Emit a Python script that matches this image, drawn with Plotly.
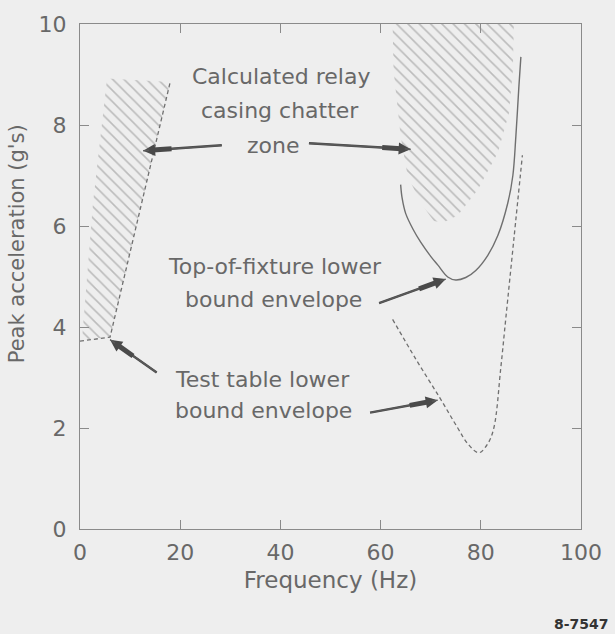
import math
import plotly.graph_objects as go

# ---------------- data ----------------
# Calculated relay casing chatter zone (left, hatched)
zone_left_x = [0.4, 2.6, 5.4, 18.0, 6.0, 0.4]
zone_left_y = [3.75, 6.46, 8.92, 8.85, 3.80, 3.75]

# Calculated relay casing chatter zone (right, hatched)
zone_right_x = [62.4, 62.6, 64.0, 65.4, 68.0, 70.6, 72.5, 75.4, 79.4, 83.4, 85.6, 86.4, 86.6, 62.4]
zone_right_y = [10.0, 9.08, 7.78, 6.99, 6.46, 6.10, 6.07, 6.21, 6.72, 7.45, 8.23, 9.08, 10.0, 10.0]

# Top-of-fixture lower bound envelope (solid)
fixture_x = [64.0, 64.3, 65.0, 66.5, 68.0, 70.0, 71.4, 73.4, 75.0, 77.0, 79.0, 81.4, 83.4, 85.4, 86.4, 87.0, 87.6, 88.0]
fixture_y = [6.82, 6.55, 6.25, 5.93, 5.68, 5.40, 5.23, 4.99, 4.93, 4.98, 5.12, 5.42, 5.81, 6.46, 7.00, 7.78, 8.76, 9.35]

# Test table lower bound envelope (dashed), low-frequency branch
table_low_x = [0.0, 6.0, 18.0]
table_low_y = [3.72, 3.80, 8.85]

# Test table lower bound envelope (dashed), high-frequency branch
table_high_x = [62.4, 67.0, 71.8, 75.4, 77.4, 79.6, 81.4, 82.6, 84.0, 85.0, 86.6, 88.3]
table_high_y = [4.15, 3.37, 2.60, 2.00, 1.69, 1.51, 1.69, 2.00, 3.20, 4.18, 5.74, 7.40]

x_ticks = [0, 20, 40, 60, 80, 100]
y_ticks = [0, 2, 4, 6, 8, 10]

# ---------------- style ----------------
FONT = "DejaVu Sans"
TXT = "#686868"
LINE = "#6f6f6f"
BG = "#eeeeee"
W, H = 615, 634
ML, MR, MT, MB = 80, 34, 20, 105
PW, PH = W - ML - MR, H - MT - MB
XR, YR = [0, 100], [0, 10]

fig = go.Figure()

hatch = dict(shape="\\", size=8, solidity=0.2, fgcolor="#8a8a8a", bgcolor="rgba(0,0,0,0)")
for zx, zy in [(zone_left_x, zone_left_y), (zone_right_x, zone_right_y)]:
    fig.add_trace(go.Scatter(x=zx, y=zy, mode="lines", fill="toself",
                             fillcolor="rgba(0,0,0,0)", fillpattern=hatch,
                             line=dict(width=0, color="rgba(0,0,0,0)"),
                             hoverinfo="skip", showlegend=False))

fig.add_trace(go.Scatter(x=fixture_x, y=fixture_y, mode="lines", line_shape="spline",
                         line=dict(color=LINE, width=1.4), showlegend=False))
fig.add_trace(go.Scatter(x=table_low_x, y=table_low_y, mode="lines",
                         line=dict(color=LINE, width=1.3, dash="4px,3px"), showlegend=False))
fig.add_trace(go.Scatter(x=table_high_x, y=table_high_y, mode="lines", line_shape="spline",
                         line=dict(color=LINE, width=1.3, dash="4px,3px"), showlegend=False))

# ---------------- annotations ----------------
def px(x, y):
    return (x - XR[0]) / (XR[1] - XR[0]) * PW, -(y - YR[0]) / (YR[1] - YR[0]) * PH

anns = []
def arrow(tail, tip):
    anns.append(dict(x=tip[0], y=tip[1], ax=tail[0], ay=tail[1], axref="x", ayref="y",
                     xref="x", yref="y", text="", showarrow=True, arrowhead=2,
                     arrowsize=1.0, arrowwidth=2.4, arrowcolor="#4a4a4a"))
    anns.append(dict(x=tip[0], y=tip[1], ax=tail[0], ay=tail[1], axref="x", ayref="y",
                     xref="x", yref="y", text="", showarrow=True, arrowhead=0,
                     arrowwidth=1.3, arrowcolor="#5a5a5a"))
    tx, ty = px(*tip)
    sx, sy = px(*tail)
    d = math.hypot(sx - tx, sy - ty)
    ux, uy = (sx - tx) / d, (sy - ty) / d
    anns.append(dict(x=tip[0], y=tip[1], ax=ux * 30, ay=uy * 30, xref="x", yref="y",
                     text="", showarrow=True, arrowhead=0, arrowwidth=5,
                     standoff=6, arrowcolor="#4a4a4a"))

arrow((28.6, 7.60), (12.6, 7.49))
arrow((45.4, 7.64), (66.0, 7.52))
arrow((59.4, 4.46), (73.0, 4.95))
arrow((15.6, 3.08), (6.0, 3.75))
arrow((57.6, 2.30), (71.4, 2.55))

labels = [
    ("Calculated relay", 40.2, 8.96),
    ("casing chatter", 40.0, 8.29),
    ("zone", 38.6, 7.60),
    ("Top-of-fixture lower", 39.0, 5.19),
    ("bound envelope", 38.6, 4.54),
    ("Test table lower", 36.4, 2.97),
    ("bound envelope", 36.6, 2.34),
]
for t, x, y in labels:
    anns.append(dict(x=x, y=y, xref="x", yref="y", text=t, showarrow=False,
                     font=dict(family=FONT, size=22, color=TXT),
                     xanchor="center", yanchor="middle"))

anns.append(dict(x=-63 / PW, y=(529 - 242) / PH, xref="paper", yref="paper",
                 text="Peak acceleration (g's)", textangle=-90, showarrow=False,
                 font=dict(family=FONT, size=21, color=TXT),
                 xanchor="center", yanchor="middle"))
anns.append(dict(x=1.0 + 30 / PW, y=-96 / PH, xref="paper", yref="paper", text="<b>8-7547</b>",
                 showarrow=False, font=dict(family=FONT, size=14, color="#333333"),
                 xanchor="right", yanchor="middle"))

axis_common = dict(showline=True, linecolor="#8a8a8a", linewidth=1.2, mirror="ticks",
                   ticks="inside", ticklen=9, tickwidth=1.2, tickcolor="#8a8a8a",
                   showgrid=False, zeroline=False,
                   tickfont=dict(family=FONT, size=22, color=TXT))

fig.update_layout(
    width=W, height=H,
    margin=dict(l=ML, r=MR, t=MT, b=MB),
    paper_bgcolor=BG, plot_bgcolor=BG,
    xaxis=dict(range=XR, tickvals=x_ticks, ticktext=[str(v) for v in x_ticks],
               ticklabelstandoff=3,
               title=dict(text="Frequency (Hz)", standoff=8,
                          font=dict(family=FONT, size=23, color=TXT)),
               **axis_common),
    yaxis=dict(range=YR, tickvals=y_ticks, ticktext=[str(v) for v in y_ticks],
               ticklabelstandoff=8, **axis_common),
    annotations=anns,
    showlegend=False,
)

fig.write_html("out.html",
               config={"displayModeBar": False},
               post_script="document.body.style.margin='0';"
                           "document.body.style.background='#eeeeee';"
                           "document.body.style.overflow='hidden';")
